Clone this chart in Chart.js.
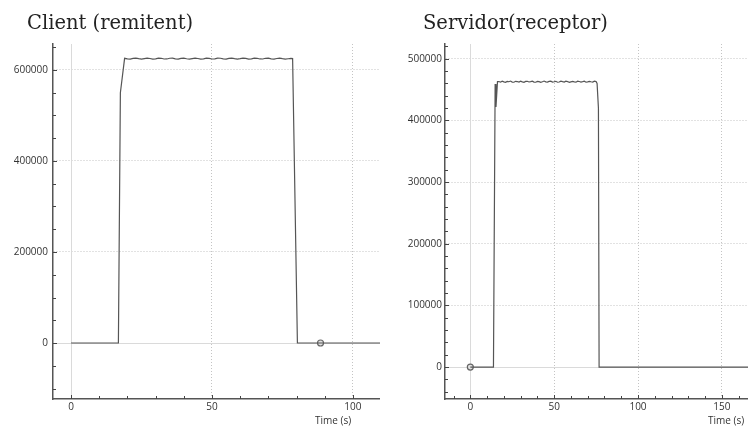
<!DOCTYPE html>
<html>
<head>
<meta charset="utf-8">
<script src="https://cdn.jsdelivr.net/npm/chart.js@4"></script>
<style>
  body { margin: 0; width: 748px; height: 432px; background: #fff; position: relative; overflow: hidden; }
  canvas { position: absolute; top: 0; }
  .title { position: absolute; top: 12px; font-family: "DejaVu Serif"; font-size: 19.5px; line-height: 22px; color: #222; white-space: nowrap; }
  .xlabel { position: absolute; top: 414px; font-family: "Open Sans"; font-size: 10px; line-height: 12px; color: #333; white-space: nowrap; }
</style>
</head>
<body>
<canvas id="clientChart" width="380" height="432" style="left:0"></canvas>
<canvas id="serverChart" width="368" height="432" style="left:380px"></canvas>
<div class="title" style="left:27px">Client (remitent)</div>
<div class="title" style="left:423px">Servidor(receptor)</div>
<div class="xlabel" style="left:315px">Time (s)</div>
<div class="xlabel" style="left:708px">Time (s)</div>
<script>
// sender side: throughput per second
const clientRampTime = [0, 16.8, 17.5];
const clientRampRate = [0, 0, 550000];
const clientPlateauStart = 19;
const clientPlateau = [
  625500, 624200, 623900, 625300, 626100, 624800, 623700, 624900, 626000, 625200,
  623800, 624400, 625900, 625600, 624000, 624100, 625700, 625800, 624300, 623900,
  625400, 626000, 624600, 623800, 625000, 626100, 625100, 623900, 624500, 625900,
  625500, 624000, 624200, 625800, 625700, 624200, 623900, 625300, 626000, 624700,
  623800, 624800, 626000, 625300, 623900, 624400, 625900, 625600, 624100, 624000,
  625600, 625900, 624400, 623800, 625200, 626100, 624900, 623900, 624600, 625400
];
const clientTailTime = [78.6, 80.3, 110];
const clientTailRate = [625000, 0, 0];
const clientMarker = [88.5, 0];

// receiver side
const serverRampTime = [0, 13.8, 14.8, 15.3, 16.2];
const serverRampRate = [0, 0, 459000, 422000, 463000];
const serverPlateauStart = 17;
const serverPlateau = [
  463200, 462100, 463800, 462600, 461900, 463400, 462800, 463900, 462300, 462000,
  463500, 463100, 462200, 463700, 462500, 461800, 463300, 463600, 462400, 462900,
  463800, 462200, 462000, 463400, 463000, 461900, 462700, 463900, 462600, 462100,
  463300, 463700, 462300, 462800, 463500, 462000, 462400, 463800, 462900, 462200,
  463600, 463100, 461900, 462700, 463400, 462500, 462100, 463800, 463200, 462300,
  462900, 463600, 462000, 462600, 463500, 462800, 462200, 463700, 463100
];
const serverTailTime = [75.6, 76.4, 76.8, 166];
const serverTailRate = [460000, 420000, 0, 0];
const serverMarker = [0, 0];

// axis ticks
const clientXTicks = [0, 50, 100];
const clientYTicks = [0, 200000, 400000, 600000];
const serverXTicks = [0, 50, 100, 150];
const serverYTicks = [0, 100000, 200000, 300000, 400000, 500000];

function buildSeries(rampT, rampV, start, plateau, tailT, tailV) {
  const pts = rampT.map((t, i) => ({ x: t, y: rampV[i] }));
  plateau.forEach((v, i) => pts.push({ x: start + i, y: v }));
  tailT.forEach((t, i) => pts.push({ x: t, y: tailV[i] }));
  return pts;
}

// zero lines (solid) and small inward tick marks on both axes
const axisMarks = {
  id: 'axisMarks',
  beforeDatasetsDraw(chart, args, opts) {
    const { ctx, chartArea: a, scales: { x, y } } = chart;
    ctx.save();
    ctx.lineWidth = 1;
    ctx.strokeStyle = '#dadada';
    ctx.beginPath();
    const x0 = Math.round(x.getPixelForValue(0)) + 0.5;
    const y0 = Math.round(y.getPixelForValue(0)) + 0.5;
    ctx.moveTo(x0, a.top); ctx.lineTo(x0, a.bottom);
    ctx.moveTo(a.left, y0); ctx.lineTo(a.right, y0);
    ctx.stroke();

    ctx.strokeStyle = '#444';
    ctx.beginPath();
    for (let i = Math.ceil(x.min / opts.xMinor); i * opts.xMinor <= x.max; i++) {
      const v = i * opts.xMinor;
      const px = Math.round(x.getPixelForValue(v)) + 0.5;
      const len = v % opts.xMajor === 0 ? 4 : 3;
      ctx.moveTo(px, a.bottom); ctx.lineTo(px, a.bottom - len);
    }
    for (let i = Math.ceil(y.min / opts.yMinor); i * opts.yMinor <= y.max; i++) {
      const v = i * opts.yMinor;
      const py = Math.round(y.getPixelForValue(v)) + 0.5;
      const len = v % opts.yMajor === 0 ? 4 : 3;
      ctx.moveTo(a.left, py); ctx.lineTo(a.left + len, py);
    }
    ctx.stroke();
    ctx.restore();
  }
};

function makeChart(id, cfg) {
  return new Chart(document.getElementById(id), {
    type: 'line',
    data: {
      datasets: [
        {
          data: cfg.series,
          borderColor: '#555',
          borderWidth: 1.2,
          pointRadius: 0,
          tension: 0
        },
        {
          data: [{ x: cfg.marker[0], y: cfg.marker[1] }],
          showLine: false,
          pointRadius: 3,
          pointBorderWidth: 1.2,
          pointBorderColor: '#666',
          pointBackgroundColor: '#e0e0e0'
        }
      ]
    },
    options: {
      responsive: false,
      animation: false,
      layout: { autoPadding: false, padding: { top: 44, left: 0, right: 0, bottom: 0 } },
      plugins: {
        legend: { display: false },
        tooltip: { enabled: false },
        axisMarks: cfg.marks
      },
      scales: {
        x: {
          type: 'linear',
          min: cfg.xMin,
          max: cfg.xMax,
          afterBuildTicks: s => { s.ticks = cfg.xTicks.map(v => ({ value: v })); },
          afterFit: s => { s.height = 33; },
          ticks: {
            autoSkip: false,
            maxRotation: 0,
            padding: 2,
            color: '#333',
            font: { family: 'Open Sans', size: 10 },
            callback: v => String(v)
          },
          grid: {
            drawTicks: false,
            color: c => (c.tick && c.tick.value === 0) ? 'rgba(0,0,0,0)' : '#c4c4c4'
          },
          border: { color: '#555', width: 1.5, dash: [1, 2] }
        },
        y: {
          min: cfg.yMin,
          max: cfg.yMax,
          afterBuildTicks: s => { s.ticks = cfg.yTicks.map(v => ({ value: v })); },
          afterFit: s => { s.width = cfg.yWidth; },
          ticks: {
            autoSkip: false,
            padding: cfg.yPad,
            color: '#333',
            font: { family: 'Open Sans', size: 10 },
            callback: v => String(v)
          },
          grid: {
            drawTicks: false,
            color: c => (c.tick && c.tick.value === 0) ? 'rgba(0,0,0,0)' : '#c4c4c4'
          },
          border: { color: '#555', width: 1.5, dash: [1, 2] }
        }
      }
    },
    plugins: [axisMarks]
  });
}

makeChart('clientChart', {
  series: buildSeries(clientRampTime, clientRampRate, clientPlateauStart, clientPlateau, clientTailTime, clientTailRate),
  marker: clientMarker,
  xMin: -6.4, xMax: 109.6,
  yMin: -123000, yMax: 657000,
  xTicks: clientXTicks, yTicks: clientYTicks,
  yWidth: 53, yPad: 5,
  marks: { xMinor: 10, xMajor: 50, yMinor: 50000, yMajor: 200000 }
});

makeChart('serverChart', {
  series: buildSeries(serverRampTime, serverRampRate, serverPlateauStart, serverPlateau, serverTailTime, serverTailRate),
  marker: serverMarker,
  xMin: -15.1, xMax: 165.6,
  yMin: -51700, yMax: 524000,
  xTicks: serverXTicks, yTicks: serverYTicks,
  yWidth: 65, yPad: 3,
  marks: { xMinor: 10, xMajor: 50, yMinor: 20000, yMajor: 100000 }
});
</script>
</body>
</html>
